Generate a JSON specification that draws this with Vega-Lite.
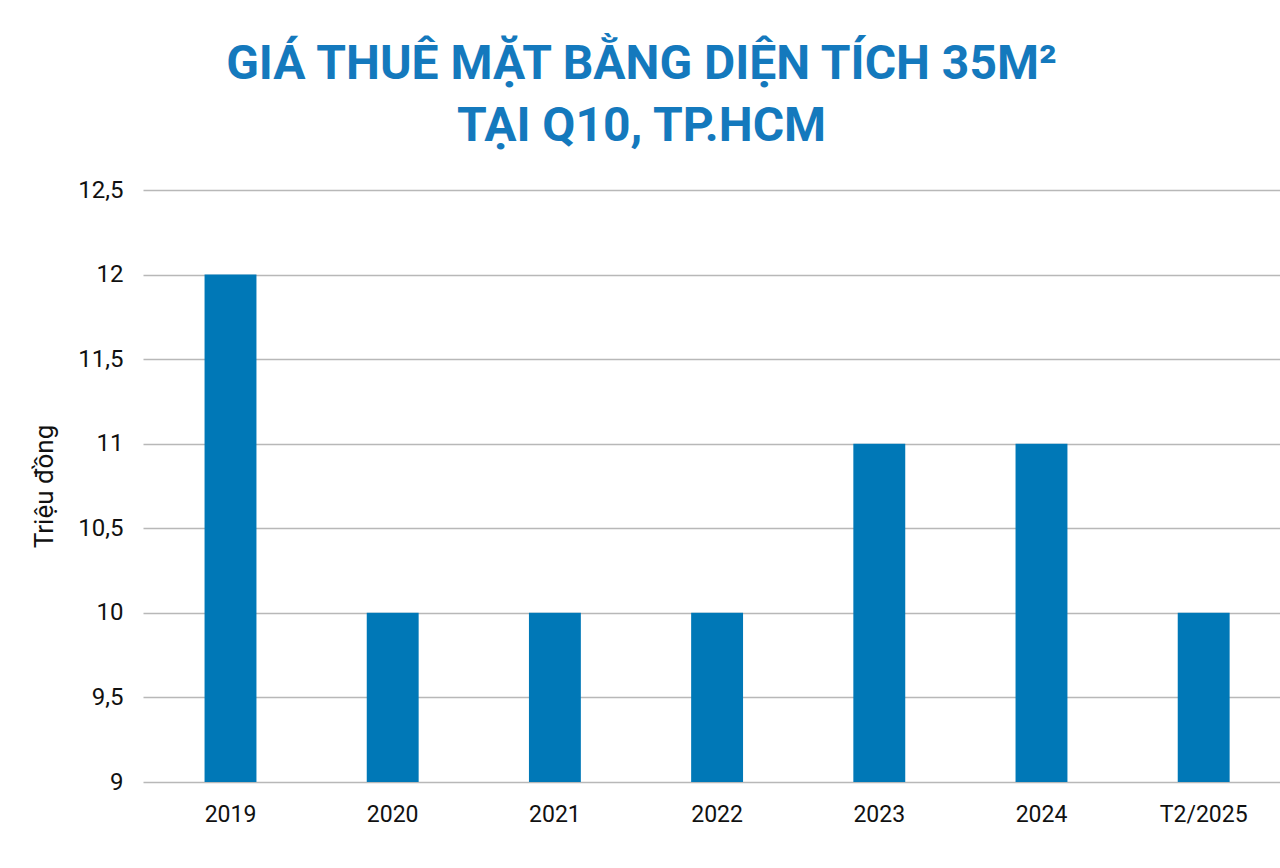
{
  "$schema": "https://vega.github.io/schema/vega-lite/v6.json",
  "width": 1137,
  "height": 592,
  "autosize": {"type": "none"},
  "padding": {"left": 143, "top": 190, "right": 0, "bottom": 86},
  "background": "white",
  "title": {
    "text": ["GIÁ THUÊ MẶT BẰNG DIỆN TÍCH 35M²", "TẠI Q10, TP.HCM"],
    "font": "Roboto",
    "fontSize": 48,
    "fontWeight": "bold",
    "color": "#1479bd",
    "lineHeight": 62,
    "anchor": "middle",
    "dx": -70,
    "offset": 27
  },
  "data": {
    "values": [
      {"year": "2019", "value": 12},
      {"year": "2020", "value": 10},
      {"year": "2021", "value": 10},
      {"year": "2022", "value": 10},
      {"year": "2023", "value": 11},
      {"year": "2024", "value": 11},
      {"year": "T2/2025", "value": 10}
    ]
  },
  "mark": {"type": "bar", "color": "#0078b7", "clip": true},
  "encoding": {
    "x": {
      "field": "year",
      "type": "nominal",
      "sort": null,
      "scale": {"paddingInner": 0.68, "paddingOuter": 0.345, "align": 0.55},
      "axis": {
        "title": null,
        "labelAngle": 0,
        "labelFont": "Roboto",
        "labelFontSize": 23,
        "labelColor": "#111111",
        "labelPadding": 21,
        "ticks": false,
        "domain": false
      }
    },
    "y": {
      "field": "value",
      "type": "quantitative",
      "scale": {"domain": [9, 12.5], "zero": false, "nice": false},
      "axis": {
        "title": "Triệu đồng",
        "titleFont": "Roboto",
        "titleFontSize": 26,
        "titleFontWeight": "normal",
        "titleColor": "#111111",
        "titlePadding": 20,
        "values": [9, 9.5, 10, 10.5, 11, 11.5, 12, 12.5],
        "labelExpr": "replace(format(datum.value, '~g'), '.', ',')",
        "labelFont": "Roboto",
        "labelFontSize": 24,
        "labelColor": "#111111",
        "labelPadding": 20,
        "ticks": false,
        "domain": false,
        "gridColor": "#b8b8b8",
        "gridWidth": 1.5
      }
    }
  },
  "config": {"view": {"stroke": null}}
}
